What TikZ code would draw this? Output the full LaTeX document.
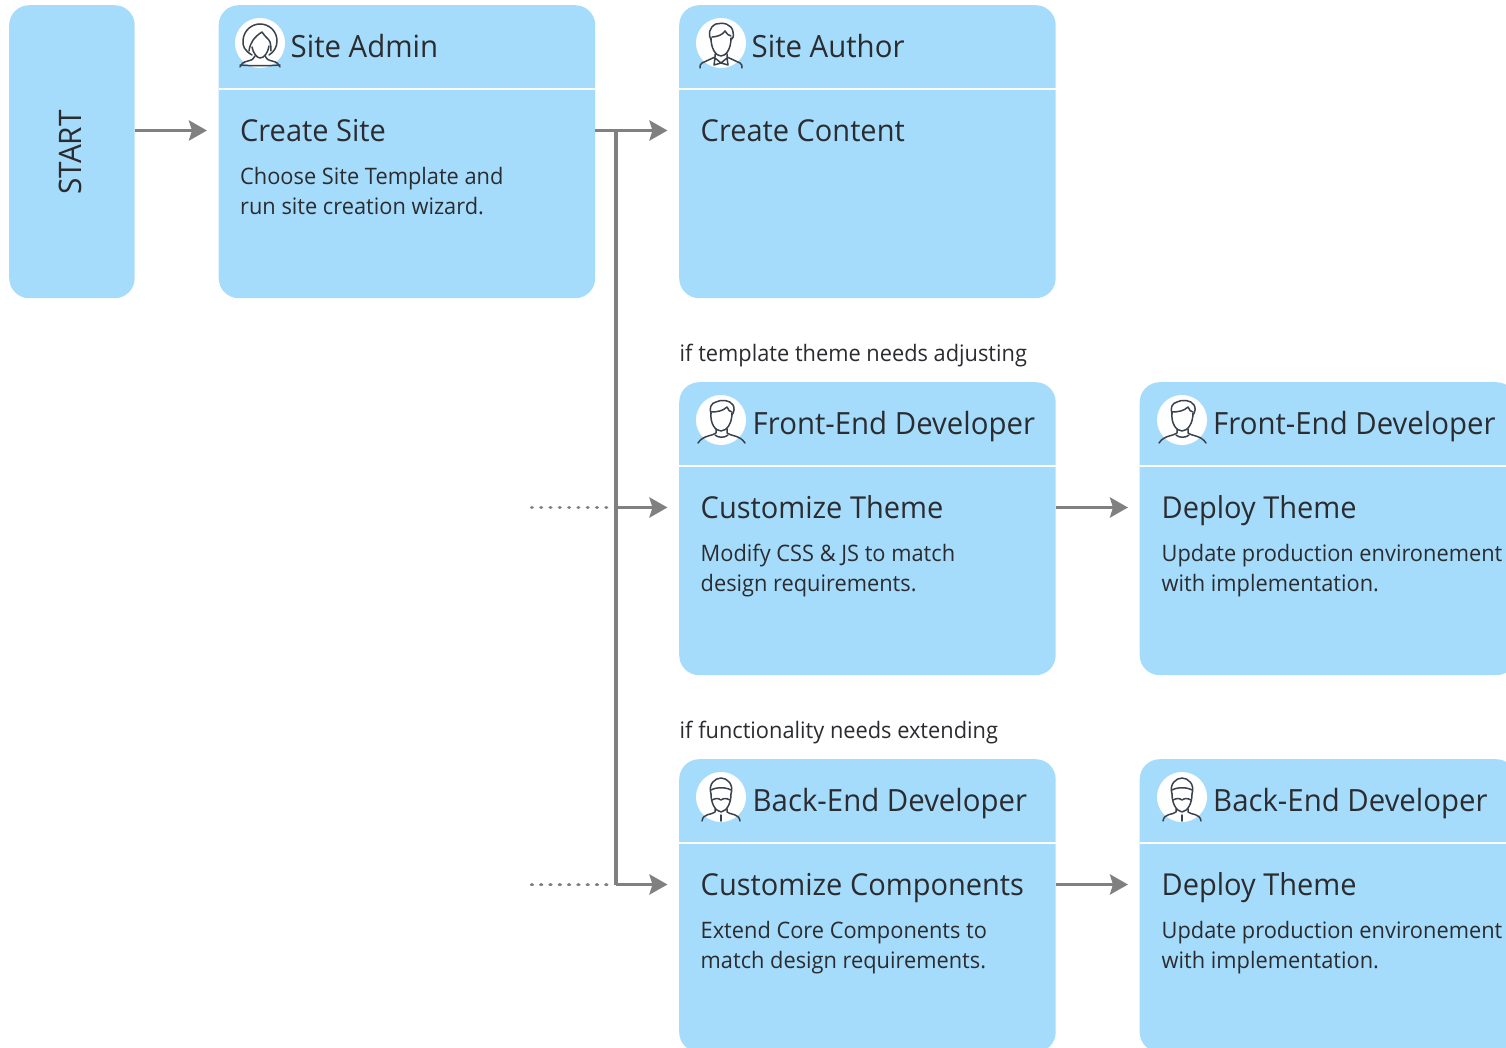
\documentclass[tikz,border=0pt]{standalone}
\usepackage{fontspec}
\setmainfont[FakeStretch=0.96]{Open Sans}
\usetikzlibrary{arrows.meta}
\definecolor{boxblue}{HTML}{A6DCFB}
\definecolor{ink}{HTML}{2A2C30}
\definecolor{linegray}{HTML}{808080}
\definecolor{iconink}{HTML}{3A424C}
\newcommand{\fsize}[1]{\fontsize{#1}{#1}\selectfont}
\tikzset{
  x=1pt,y=-1pt,
  card/.style={fill=boxblue,rounded corners=20pt,minimum width=376.5pt,minimum height=293pt,anchor=north west,inner sep=0pt},
  startcard/.style={fill=boxblue,rounded corners=20pt,minimum width=125.5pt,minimum height=293pt,anchor=north west,inner sep=0pt},
  role/.style={anchor=base west,inner sep=0pt,text=ink,font=\fsize{30.6}},
  heading/.style={anchor=base west,inner sep=0pt,text=ink,font=\fsize{30.2}},
  detail/.style={anchor=base west,inner sep=0pt,text=ink,font=\fsize{22.7}},
  cond/.style={anchor=base west,inner sep=0pt,text=ink,font=\fsize{22.7}},
  flow/.style={draw=linegray,line width=3.8pt,-{Stealth[length=18pt,width=20pt,inset=3pt]}},
  trunk/.style={draw=linegray,line width=3.8pt},
  dots/.style={draw=linegray,line width=3.8pt,line cap=round,dash pattern=on 0.4pt off 8.9pt},
  divider/.style={draw=white,line width=2.6pt},
  iconline/.style={draw=iconink,line width=1.5pt,line cap=round,line join=round},
  female/.pic={
    \fill[white] (0,0) circle[radius=25];
    \draw[iconline] (-8,12) .. controls (-15,8) and (-18,3) .. (-17,-3) .. controls (-16,-13) and (-8,-19) .. (0,-19) .. controls (9,-19) and (17,-12) .. (17,-2) .. controls (17,4) and (14,9) .. (9,12);
    \draw[iconline] (-11,8) .. controls (-10,0) and (-6,-6) .. (2,-11) .. controls (5,-6) and (9,-4) .. (10,-1) .. controls (11,2) and (11,5) .. (11,8);
    \draw[iconline] (-8,4) .. controls (-7,10) and (-3,15) .. (0,15) .. controls (4,15) and (8,10) .. (9,3);
    \draw[iconline] (-5,13) .. controls (-6,16) and (-8,17) .. (-12,18) .. controls (-17,19) and (-19,21) .. (-20,24);
    \draw[iconline] (5,13) .. controls (6,16) and (8,17) .. (12,18) .. controls (17,19) and (19,21) .. (20,24);
    \draw[iconline] (-20,22) .. controls (-8,23) and (8,23) .. (20,22);
  },
  malebow/.pic={
    \fill[white] (0,0) circle[radius=25];
    \draw[iconline] (-10,-3) .. controls (-13,-8) and (-12,-16) .. (-5,-19) .. controls (2,-21) and (11,-19) .. (12,-11) .. controls (13,-7) and (12,-4) .. (10,-3);
    \draw[iconline] (-9,-6) .. controls (-5,-6) and (2,-8) .. (4,-12) .. controls (6,-9) and (8,-7) .. (10,-7);
    \draw[iconline] (-10,-5) .. controls (-10,6) and (-5,13) .. (0,13) .. controls (5,13) and (10,6) .. (10,-5);
    \draw[iconline] (-6,11) -- (-6,14) -- (-19,20) .. controls (-21,21) and (-21,23) .. (-21,25);
    \draw[iconline] (6,11) -- (6,14) -- (19,20) .. controls (21,21) and (21,23) .. (21,25);
    \draw[iconline] (0,20) -- (-6,15) -- (-7,22) -- cycle;
    \draw[iconline] (0,20) -- (6,15) -- (7,22) -- cycle;
  },
  malefront/.pic={
    \fill[white] (0,0) circle[radius=25];
    \draw[iconline] (-10,-6) .. controls (-12,-12) and (-10,-17) .. (-5,-18) .. controls (0,-21) and (9,-20) .. (12,-15) .. controls (14,-12) and (13,-8) .. (11,-5);
    \draw[iconline] (-10,-8) .. controls (-4,-8) and (2,-9) .. (6,-13) .. controls (7,-10) and (9,-8) .. (11,-8);
    \draw[iconline] (-10,-7) .. controls (-11,3) and (-6,11) .. (0,11) .. controls (6,11) and (11,3) .. (11,-7);
    \draw[iconline] (-5,9) -- (-5,13) .. controls (-8,16) and (-18,15) .. (-23,23);
    \draw[iconline] (6,9) -- (6,13) .. controls (9,16) and (19,15) .. (24,23);
    \draw[iconline] (-6,15) .. controls (-3,18) and (4,18) .. (7,15);
  },
  malemask/.pic={
    \fill[white] (0,0) circle[radius=25];
    \draw[iconline] (-10,-3) .. controls (-13,-13) and (-6,-19) .. (0,-19) .. controls (6,-19) and (13,-13) .. (10,-3);
    \draw[iconline] (-10,-7) .. controls (-5,-10) and (5,-10) .. (10,-7);
    \draw[iconline] (-10,-3) .. controls (-10,6) and (-6,14) .. (0,15) .. controls (6,14) and (10,6) .. (10,-3);
    \draw[iconline] (-9,3) .. controls (-5,1) and (-3,1) .. (0,3) .. controls (3,1) and (5,1) .. (9,3);
    \draw[iconline] (-6,12) -- (-6,15) .. controls (-9,18) and (-18,16) .. (-19,24);
    \draw[iconline] (6,12) -- (6,15) .. controls (9,18) and (18,16) .. (19,24);
    \draw[iconline] (0,18) -- (0,24);
  },
}
\begin{document}
\begin{tikzpicture}
\path[use as bounding box] (0,0) rectangle (1506,1048);
\clip (0,0) rectangle (1506,1048);
\fill[white] (0,0) rectangle (1506,1048);

% cards
\node[startcard] (start) at (9,5) {};
\node[card] (admin) at (218.5,5) {};
\node[card] (author) at (679,5) {};
\node[card] (fe1) at (679,382) {};
\node[card] (fe2) at (1139.5,382) {};
\node[card] (be1) at (679,759) {};
\node[card] (be2) at (1139.5,759) {};

\node[rotate=90,inner sep=0pt,text=ink,font=\fsize{31}] (starttext) at (70,152.5) {START};

% dividers
\draw[divider] (admin.west |- 0,89) -- (admin.east |- 0,89);
\draw[divider] (author.west |- 0,89) -- (author.east |- 0,89);
\draw[divider] (fe1.west |- 0,466) -- (fe1.east |- 0,466);
\draw[divider] (fe2.west |- 0,466) -- (fe2.east |- 0,466);
\draw[divider] (be1.west |- 0,843) -- (be1.east |- 0,843);
\draw[divider] (be2.west |- 0,843) -- (be2.east |- 0,843);

% icons
\pic at (260,43) {female};
\pic at (721,43) {malebow};
\pic at (721,420) {malefront};
\pic at (1182,420) {malefront};
\pic at (721,797) {malemask};
\pic at (1182,797) {malemask};

% role labels
\node[role] (r1) at (290.5,57.5) {Site Admin};
\node[role] (r2) at (751.5,57.5) {Site Author};
\node[role] (r3) at (752.5,434) {Front-End Developer};
\node[role] (r4) at (1213,434) {Front-End Developer};
\node[role] (r5) at (752.5,811) {Back-End Developer};
\node[role] (r6) at (1213,811) {Back-End Developer};

% headings and details
\node[heading] (h1) at (240,142) {Create Site};
\node[detail] (d1a) at (240,185) {Choose Site Template and};
\node[detail] (d1b) at (240,215) {run site creation wizard.};
\node[heading] (h2) at (700.5,142) {Create Content};
\node[cond] (c1) at (679.5,361) {if template theme needs adjusting};
\node[heading] (h3) at (700.5,518.5) {Customize Theme};
\node[detail] (d3a) at (700.5,561.5) {Modify CSS \& JS to match};
\node[detail] (d3b) at (700.5,591.5) {design requirements.};
\node[heading] (h4) at (1161.5,518.5) {Deploy Theme};
\node[detail] (d4a) at (1161.5,561.5) {Update production environement};
\node[detail] (d4b) at (1161.5,591.5) {with implementation.};
\node[cond] (c2) at (679.5,738) {if functionality needs extending};
\node[heading] (h5) at (700.5,895.5) {Customize Components};
\node[detail] (d5a) at (700.5,938.5) {Extend Core Components to};
\node[detail] (d5b) at (700.5,968.5) {match design requirements.};
\node[heading] (h6) at (1161.5,895.5) {Deploy Theme};
\node[detail] (d6a) at (1161.5,938.5) {Update production environement};
\node[detail] (d6b) at (1161.5,968.5) {with implementation.};

% connector levels and free ends
\coordinate (lane1) at (616,130.5);
\coordinate (lane2) at (616,507.5);
\coordinate (lane3) at (616,884.5);
\coordinate (dot2) at (531.7,507.5);
\coordinate (dot3) at (531.7,884.5);
\coordinate (dot2e) at (608,507.5);
\coordinate (dot3e) at (608,884.5);

% connectors
\draw[flow,shorten >=11.5pt] (start.east |- lane1) -- (admin.west |- lane1);
\draw[flow,shorten >=11.5pt] (admin.east |- lane1) -- (author.west |- lane1);
\draw[trunk] (lane1) -- (lane3);
\draw[flow,shorten >=11.5pt] (lane2) -- (fe1.west |- lane2);
\draw[flow,shorten >=11.5pt] (lane3) -- (be1.west |- lane3);
\draw[flow,shorten >=11.5pt] (fe1.east |- lane2) -- (fe2.west |- lane2);
\draw[flow,shorten >=11.5pt] (be1.east |- lane3) -- (be2.west |- lane3);
\draw[dots] (dot2) -- (dot2e);
\draw[dots] (dot3) -- (dot3e);
\end{tikzpicture}
\end{document}
